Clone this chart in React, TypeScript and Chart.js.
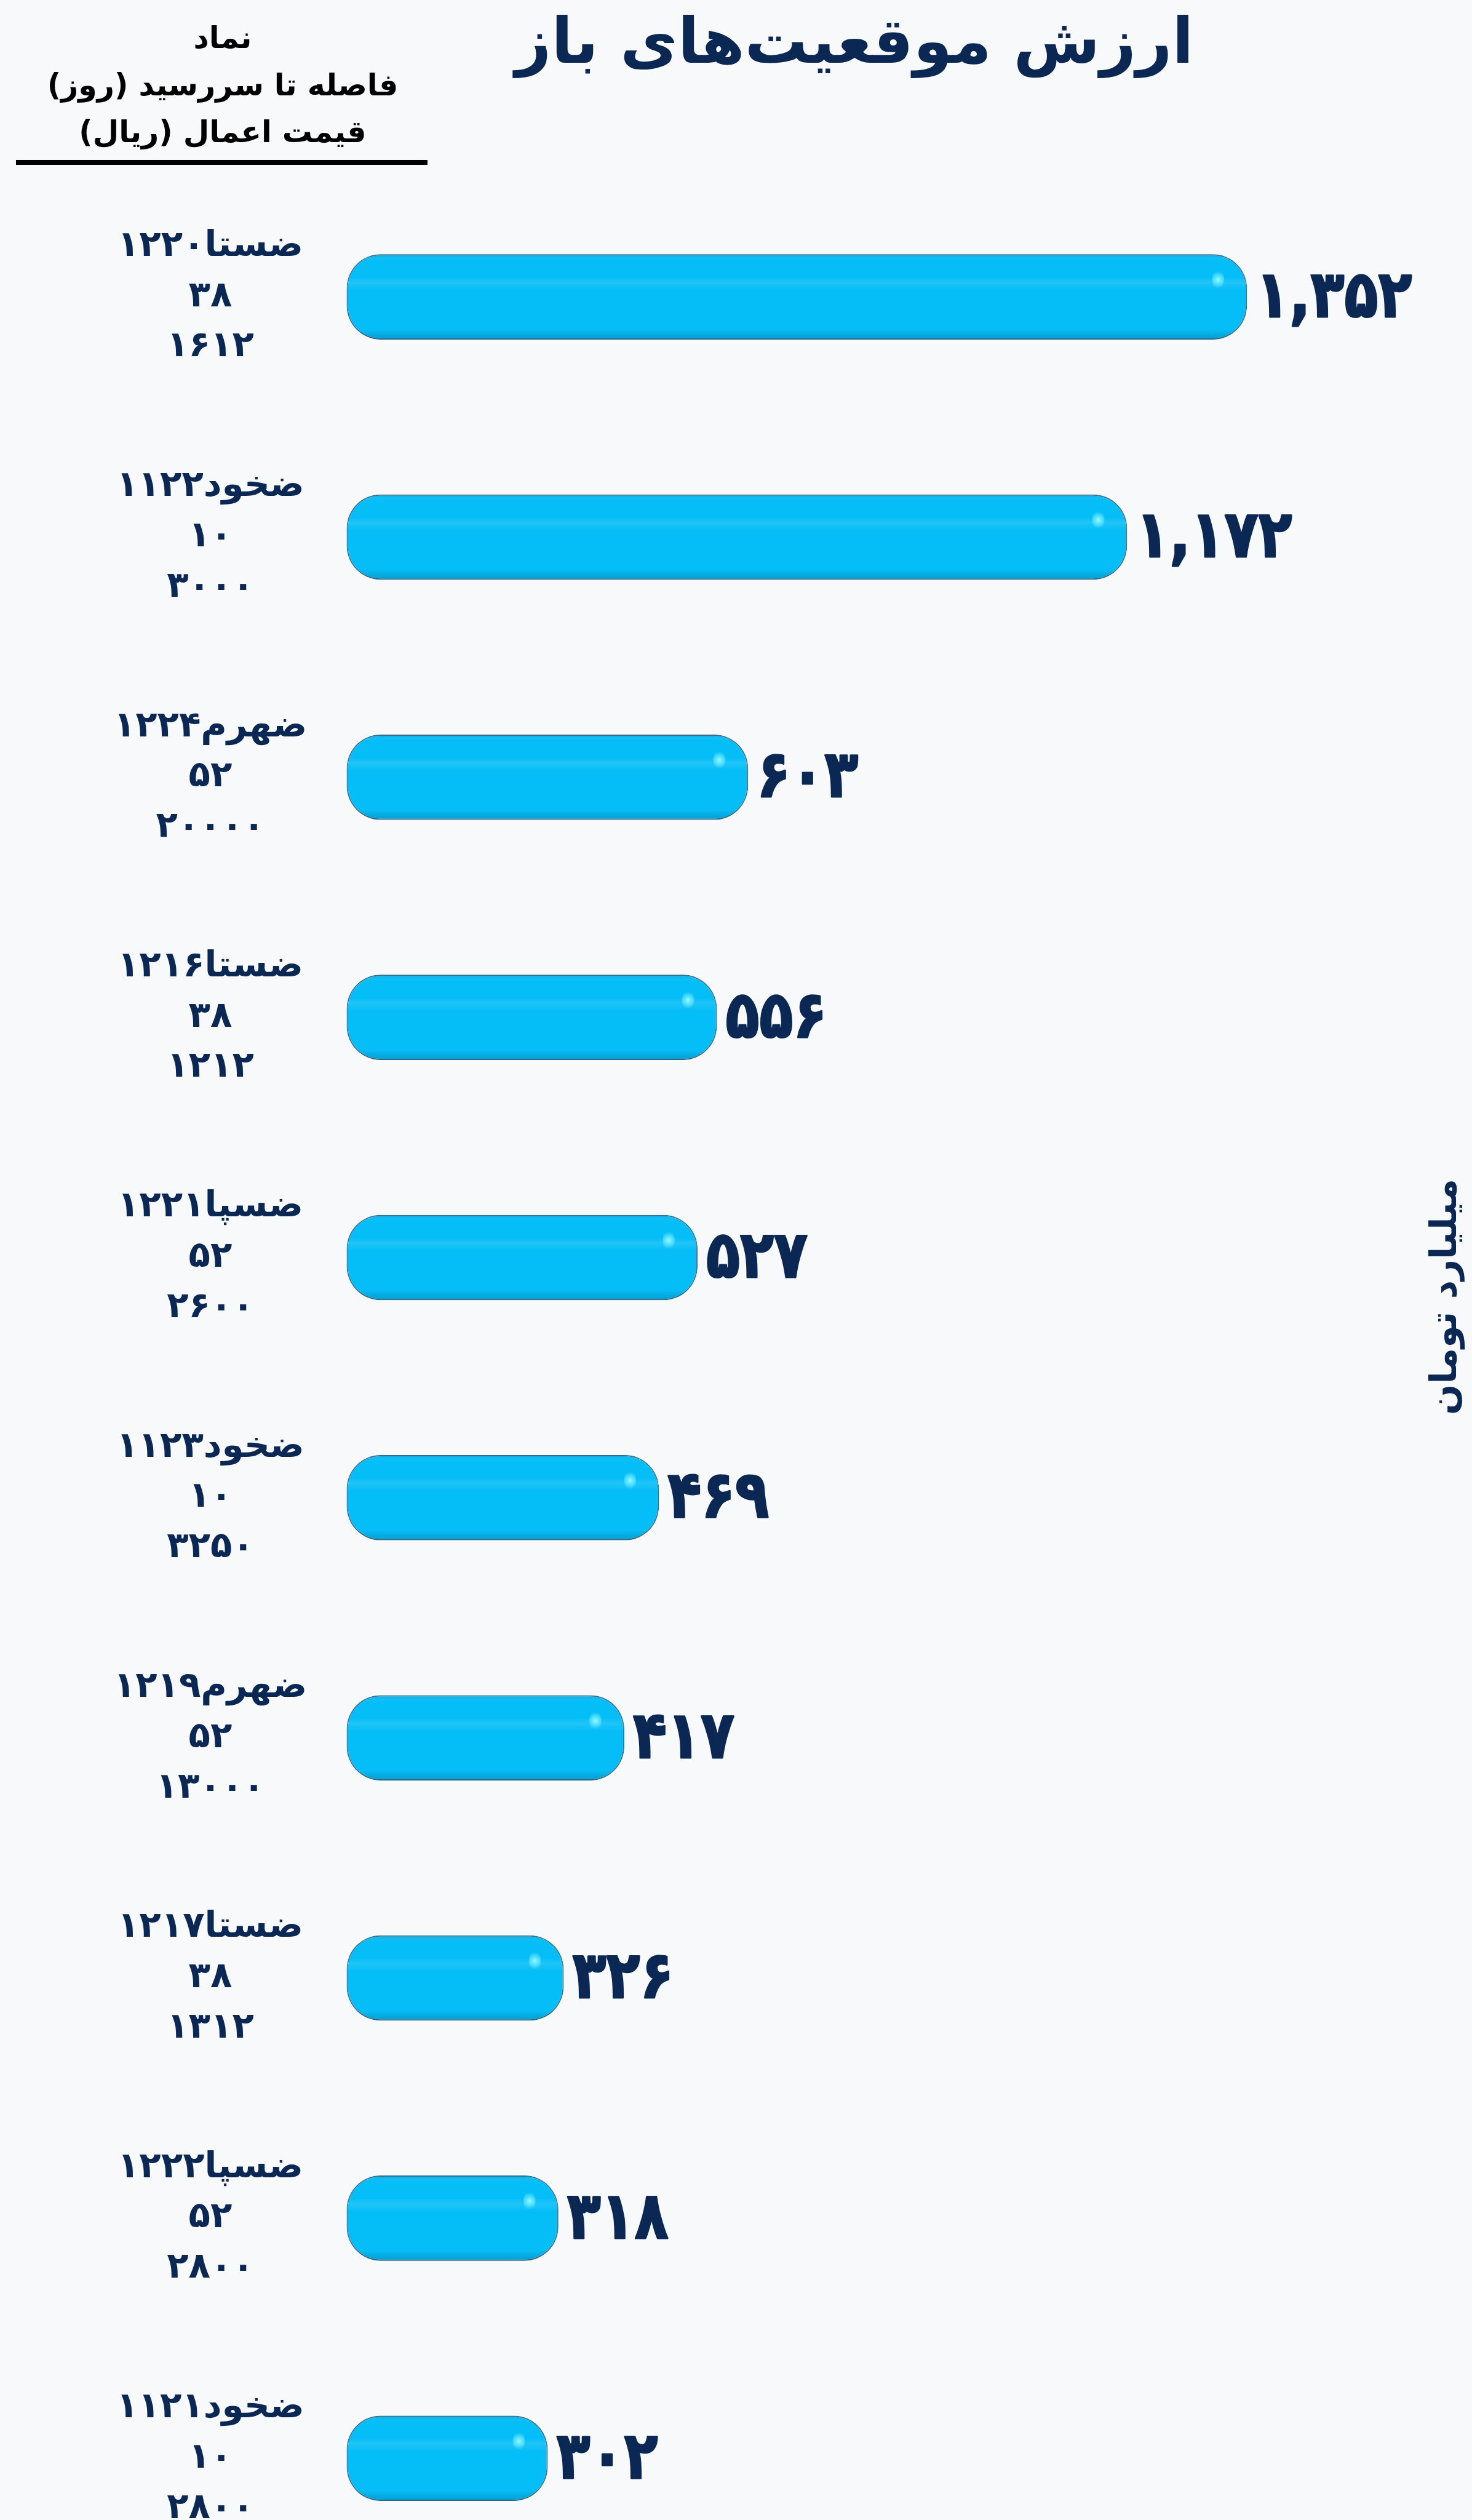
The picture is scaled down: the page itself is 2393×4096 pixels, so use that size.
import React, { useEffect, useRef } from 'react';
import { Chart, registerables } from 'chart.js';

Chart.register(...registerables);

// ---------- data ----------
const symbols = ['ضستا۱۲۲۰', 'ضخود۱۱۲۲', 'ضهرم۱۲۲۴', 'ضستا۱۲۱۶', 'ضسپا۱۲۲۱', 'ضخود۱۱۲۳', 'ضهرم۱۲۱۹', 'ضستا۱۲۱۷', 'ضسپا۱۲۲۲', 'ضخود۱۱۲۱'];
const daysToMaturity = [38, 10, 52, 38, 52, 10, 52, 38, 52, 10];
const strikePrices = [1612, 3000, 20000, 1212, 2600, 3250, 13000, 1312, 2800, 2800];
const openValues = [1352, 1172, 603, 556, 527, 469, 417, 326, 318, 302];

const titleText = 'ارزش موقعیت‌های باز';
const headerLines = ['نماد', 'فاصله تا سررسید (روز)', 'قیمت اعمال (ریال)'];
const unitText = 'میلیارد تومان';
const xMax = 1525;

// ---------- helpers ----------
const FONT = '"DejaVu Sans", sans-serif';
const NAVY = '#0b2855';
const faDigits = '۰۱۲۳۴۵۶۷۸۹';
const toFa = (s: string | number) => String(s).replace(/\d/g, (d) => faDigits[+d]);
const fmtValue = (v: number) => toFa(v.toLocaleString('en-US'));

const labels = symbols.map((s, i) => [s, toFa(daysToMaturity[i]), toFa(strikePrices[i])]);

export default function App() {
  const ref = useRef<HTMLCanvasElement>(null);

  useEffect(() => {
    const canvas = ref.current;
    if (!canvas) return;
    const W = 2393;
    const H = 4096;
    const AXIS_RIGHT = 563.5;
    const LABEL_CENTER = 342;
    const AREA_RIGHT = 2214.5;
    const AREA_TOP = 482.6;
    const AREA_BOTTOM = 3995.7;
    const TICK_SIZE = 58;
    const TITLE_SIZE = 102;

    const mctx = document.createElement('canvas').getContext('2d')!;
    mctx.font = `bold ${TICK_SIZE}px ${FONT}`;
    let widest = 0;
    labels.forEach((l) => l.forEach((s) => { widest = Math.max(widest, mctx.measureText(s).width); }));
    const tickPadding = AXIS_RIGHT - LABEL_CENTER - widest / 2;

    const decor = {
      id: 'decor',
      beforeDraw(chart: any) {
        const { ctx, width, height } = chart;
        ctx.save();
        ctx.fillStyle = '#f8f9fb';
        ctx.fillRect(0, 0, width, height);
        ctx.restore();
      },
      afterDatasetsDraw(chart: any) {
        const { ctx } = chart;
        const meta = chart.getDatasetMeta(0);
        meta.data.forEach((el: any, i: number) => {
          const { x, y, base, height } = el.getProps(['x', 'y', 'base', 'height'], true);
          const h = height;
          const w = x - base;
          const top = y - h / 2;
          const r = Math.min(55, h / 2, w / 2);
          ctx.save();
          ctx.beginPath();
          ctx.roundRect(base, top, w, h, r);
          ctx.clip();
          const g = ctx.createLinearGradient(0, top, 0, top + h);
          g.addColorStop(0, 'rgba(0,50,90,0.18)');
          g.addColorStop(0.07, 'rgba(255,255,255,0)');
          g.addColorStop(0.27, 'rgba(255,255,255,0)');
          g.addColorStop(0.33, 'rgba(255,255,255,0.10)');
          g.addColorStop(0.42, 'rgba(255,255,255,0)');
          g.addColorStop(0.88, 'rgba(0,0,0,0)');
          g.addColorStop(1, 'rgba(0,50,90,0.22)');
          ctx.fillStyle = g;
          ctx.fillRect(base, top, w, h);
          const sx = x - 47;
          const sy = y - 28;
          const rg = ctx.createRadialGradient(sx, sy, 0, sx, sy, 14);
          rg.addColorStop(0, 'rgba(150,255,255,0.95)');
          rg.addColorStop(1, 'rgba(150,255,255,0)');
          ctx.fillStyle = rg;
          ctx.beginPath();
          ctx.ellipse(sx, sy, 10, 15, 0, 0, Math.PI * 2);
          ctx.fill();
          ctx.restore();

          // value label
          const fs = 106;
          ctx.save();
          ctx.fillStyle = NAVY;
          ctx.strokeStyle = NAVY;
          ctx.lineWidth = 3;
          ctx.lineJoin = 'round';
          ctx.font = `bold ${fs}px ${FONT}`;
          ctx.textAlign = 'left';
          ctx.textBaseline = 'alphabetic';
          ctx.direction = 'ltr';
          ctx.translate(x + 14, y - 6 + 0.36 * fs);
          ctx.scale(0.85, 1);
          const t = fmtValue(openValues[i]);
          ctx.strokeText(t, 0, 0);
          ctx.fillText(t, 0, 0);
          ctx.restore();
        });
      },
      afterDraw(chart: any) {
        const { ctx } = chart;
        ctx.save();
        ctx.fillStyle = '#000';
        ctx.font = `bold 49px ${FONT}`;
        ctx.textAlign = 'center';
        ctx.textBaseline = 'alphabetic';
        ctx.direction = 'rtl';
        const ys = [78, 155, 231];
        headerLines.forEach((t, i) => ctx.fillText(t, 362, ys[i]));
        ctx.fillRect(26, 260, 669, 8);
        ctx.restore();

        ctx.save();
        ctx.fillStyle = NAVY;
        ctx.font = `bold 59px ${FONT}`;
        ctx.textAlign = 'center';
        ctx.textBaseline = 'middle';
        ctx.direction = 'rtl';
        ctx.translate(2352, 2108);
        ctx.rotate(-Math.PI / 2);
        ctx.fillText(unitText, 0, 0);
        ctx.restore();
      },
    };

    const chart = new Chart(canvas, {
      type: 'bar',
      data: {
        labels,
        datasets: [
          {
            data: openValues,
            backgroundColor: '#06bef7',
            borderColor: 'rgba(14,95,135,0.85)',
            borderWidth: 2,
            borderSkipped: false,
            borderRadius: 55,
            barPercentage: 0.355,
            categoryPercentage: 1,
            clip: false,
          },
        ],
      },
      options: {
        indexAxis: 'y',
        animation: false,
        responsive: true,
        maintainAspectRatio: false,
        layout: { padding: { left: 0, top: 0, right: W - AREA_RIGHT, bottom: H - AREA_BOTTOM } },
        plugins: {
          legend: { display: false },
          tooltip: { enabled: false },
          title: {
            display: true,
            text: titleText,
            fullSize: false,
            color: NAVY,
            font: { family: FONT, size: TITLE_SIZE, weight: 'bold', lineHeight: 1.2 },
            padding: { top: 14, bottom: AREA_TOP - 14 - TITLE_SIZE * 1.2 },
          },
        },
        scales: {
          x: { display: false, min: 0, max: xMax },
          y: {
            offset: false,
            grid: { display: false, drawTicks: false },
            border: { display: false },
            ticks: {
              color: NAVY,
              crossAlign: 'center',
              padding: tickPadding,
              autoSkip: false,
              font: { family: FONT, size: TICK_SIZE, weight: 'bold', lineHeight: 1.41 },
            },
            afterFit(scale: any) {
              scale.width = AXIS_RIGHT;
              scale.paddingTop = 0;
              scale.paddingBottom = 0;
            },
          },
        },
      },
      plugins: [decor],
    } as any);

    return () => chart.destroy();
  }, []);

  return (
    <div style={{ position: 'absolute', left: 0, top: 0, width: 2393, height: 4096 }}>
      <canvas ref={ref} />
    </div>
  );
}
